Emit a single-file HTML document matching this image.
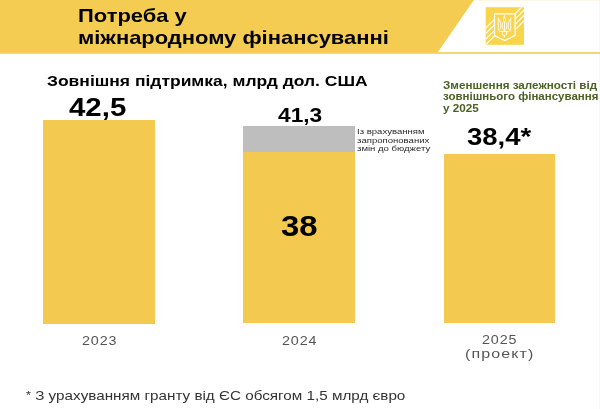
<!DOCTYPE html>
<html>
<head>
<meta charset="utf-8">
<style>
html,body{margin:0;padding:0;}
body{width:600px;height:409px;overflow:hidden;position:relative;background:#fff;font-family:"Liberation Sans",sans-serif;}
.a{position:absolute;white-space:nowrap;transform-origin:0 0;will-change:transform;}
.bar{position:absolute;background:#F3CA4F;}
.title{left:78px;top:4.8px;font-weight:bold;font-size:19px;line-height:22px;color:#000;transform:scaleX(1.155);}
.sub{left:47px;top:72.3px;font-weight:bold;font-size:15.5px;color:#000;transform:scaleX(1.127);}
.val{font-weight:bold;color:#000;}
.yr{font-size:12.8px;color:#555;letter-spacing:0.8px;transform:scaleX(1.12);}
.note{left:357px;top:128.4px;font-size:8px;line-height:8.65px;color:#2a2a2a;transform:scaleX(1.195);}
.green{left:443px;font-weight:bold;font-size:10px;line-height:11.6px;color:#4B6122;}
.foot{left:25.8px;top:388.5px;font-size:12.6px;color:#333;transform:scaleX(1.21);}
</style>
</head>
<body>
<div class="a" style="left:0;top:0;width:600px;height:1px;background:#FEF7E4"></div>
<div class="a" style="left:599px;top:0;width:1px;height:409px;background:#F7F7F7"></div>
<svg class="a" style="left:0;top:0" width="600" height="60" viewBox="0 0 600 60">
  <polygon points="0,0 473.9,0 437.6,52.4 0,52.4" fill="#F3CC51"/>
  <rect x="0" y="52.2" width="600" height="1.6" fill="#F3CC51"/>
  <defs><clipPath id="sq"><rect x="485.7" y="7.2" width="38.3" height="37.6"/></clipPath></defs>
  <rect x="485.7" y="7.2" width="38.3" height="37.6" fill="#F8D54B"/>
  <g clip-path="url(#sq)" stroke="#fff" stroke-width="1.2" fill="none" stroke-linecap="butt">
    <path d="M515,13.8 L522.5,6.3 M515,19.1 L525,9.1 M515,24.4 L525,14.4 M515,29.9 L525,19.9"/>
    <path d="M494.5,19.3 L484.7,29.1 M494.5,24.7 L484.7,34.5 M494.5,30.3 L484.7,40.1 M494.5,35.9 L484.7,45.7"/>
    <path d="M494.5,13.8 H515.1 V35.4 L504.8,40.6 L494.5,35.6 Z"/>
  </g>
  <g stroke="#fff" stroke-width="0.85" fill="none" stroke-linejoin="round" stroke-linecap="round">
    <path d="M498.3,18.2 L498.3,30.4 Q498.9,31.4 500.5,31.4 H508.5 Q510.1,31.4 510.7,30.4 L510.7,18.2"/>
    <path d="M498.3,18.2 Q501.3,22 500.9,26.5 Q500.7,28.6 499.8,29.6 M510.7,18.2 Q507.7,22 508.1,26.5 Q508.3,28.6 509.2,29.6"/>
    <path d="M504.5,16 L505.6,20.2 L504.5,23.3 L503.4,20.2 Z M504.5,23.3 V30.8"/>
    <path d="M502.3,22.8 Q501.8,27.2 503.1,29.6 M506.7,22.8 Q507.2,27.2 505.9,29.6"/>
    <circle cx="504.5" cy="33.3" r="2.4"/>
    <path d="M504.5,35.7 V37"/>
  </g>
</svg>
<div class="a title">Потреба у<br>міжнародному фінансуванні</div>
<div class="a sub">Зовнішня підтримка, млрд дол. США</div>

<div class="bar" style="left:43.3px;top:120px;width:111.7px;height:203.5px;"></div>
<div class="bar" style="left:243.4px;top:126px;width:111.7px;height:26.2px;background:#BEBEBE;"></div>
<div class="bar" style="left:243.4px;top:152.2px;width:111.7px;height:171.3px;"></div>
<div class="bar" style="left:443.7px;top:153.6px;width:111.7px;height:169.9px;"></div>

<div class="a val" style="left:69px;top:93px;font-size:25px;transform:scaleX(1.177)">42,5</div>
<div class="a val" style="left:278px;top:103px;font-size:20.5px;transform:scaleX(1.108)">41,3</div>
<div class="a val" style="left:280.5px;top:210px;font-size:28.6px;transform:scaleX(1.15)">38</div>
<div class="a val" style="left:467px;top:124px;font-size:23.7px;transform:scaleX(1.16)">38,4*</div>

<div class="a note">Із врахуванням<br>запропонованих<br>змін до бюджету</div>
<div class="a green" style="top:79.5px;transform:scaleX(1.165)">Зменшення залежності від</div>
<div class="a green" style="top:91.3px;transform:scaleX(1.15)">зовнішнього фінансування</div>
<div class="a green" style="top:102.8px;transform:scaleX(1.17)">у 2025</div>

<div class="a yr" style="left:81.5px;top:332.5px;">2023</div>
<div class="a yr" style="left:281.5px;top:332.5px;">2024</div>
<div class="a yr" style="left:481.5px;top:332px;">2025</div>
<div class="a yr" style="left:465.4px;top:346px;letter-spacing:0.88px;transform:scaleX(1.25);">(проект)</div>

<div class="a foot"><span style="font-size:10.5px;position:relative;top:-1px">*</span> З урахуванням гранту від ЄС обсягом 1,5 млрд євро</div>
</body>
</html>
